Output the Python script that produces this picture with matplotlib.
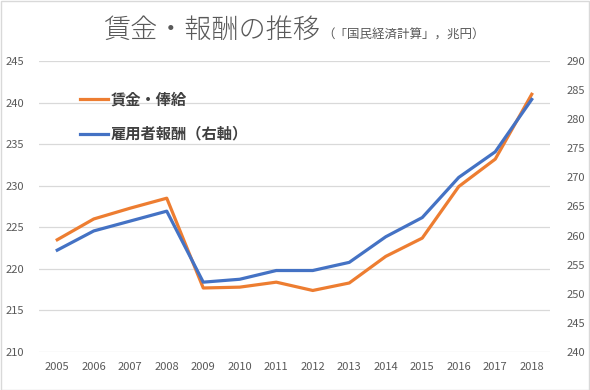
import matplotlib
matplotlib.use("Agg")
import matplotlib.pyplot as plt
import numpy as np
from matplotlib.patches import Rectangle

plt.rcParams['font.family'] = ['Noto Sans CJK JP', 'DejaVu Sans']

years = ['2005', '2006', '2007', '2008', '2009', '2010', '2011',
         '2012', '2013', '2014', '2015', '2016', '2017', '2018']
# 賃金・俸給 (left axis)
wages = [223.5, 226.0, 227.3, 228.5, 217.7, 217.8, 218.4,
         217.4, 218.3, 221.5, 223.7, 229.9, 233.2, 241.0]
# 雇用者報酬 (right axis)
compensation = [257.5, 260.8, 262.5, 264.2, 252.0, 252.5, 254.0,
                254.0, 255.4, 259.8, 263.1, 270.0, 274.4, 283.4]

gray = '#595959'
x = np.arange(len(years))

fig = plt.figure(figsize=(5.9, 3.9), dpi=100)
fig.patch.set_facecolor('white')
fig.patches.append(Rectangle((0.001, 0.001), 0.997, 0.997, transform=fig.transFigure,
                             fill=False, edgecolor='#d9d9d9', linewidth=1.0))

ax1 = fig.add_axes([39 / 590, 38 / 390, 511 / 590, 291 / 390])
ax2 = ax1.twinx()

ax1.set_ylim(210, 245)
ax1.set_yticks(np.arange(210, 246, 5))
ax2.set_ylim(240, 290)
ax2.set_yticks(np.arange(240, 291, 5))
ax1.set_xlim(-0.5, len(years) - 0.5)
ax1.set_xticks(x)
ax1.set_xticklabels(years)

ax1.grid(axis='y', color='#d9d9d9', linewidth=0.9)
ax1.set_axisbelow(True)
for a in (ax1, ax2):
    for s in a.spines.values():
        s.set_visible(False)
    a.tick_params(length=0, labelsize=8, labelcolor=gray)
ax1.tick_params(axis='y', pad=11)
ax2.tick_params(axis='y', pad=12)
ax1.tick_params(axis='x', pad=7)

l1, = ax1.plot(x, wages, color='#ED7D31', linewidth=2.3, label='賃金・俸給')
l2, = ax2.plot(x, compensation, color='#4472C4', linewidth=2.3, label='雇用者報酬（右軸）')

leg = ax1.legend([l1, l2], [l1.get_label(), l2.get_label()], loc='upper left',
                 bbox_to_anchor=(0.08, 0.895), frameon=False, borderaxespad=0,
                 borderpad=0, handlelength=1.85, handletextpad=0.15,
                 labelspacing=1.2, prop={'size': 11, 'weight': 'bold'})
for t in leg.get_texts():
    t.set_color('#404040')

fig.text(103 / 590, 1 - 30 / 390, '賃金・報酬の推移', fontsize=19.5, color=gray,
         va='center', ha='left', fontweight='light')
fig.text(322 / 590, 1 - 35 / 390, '（「国民経済計算」，兆円）', fontsize=9, color=gray,
         va='center', ha='left')

fig.savefig('out.png', dpi=100, facecolor='white')
